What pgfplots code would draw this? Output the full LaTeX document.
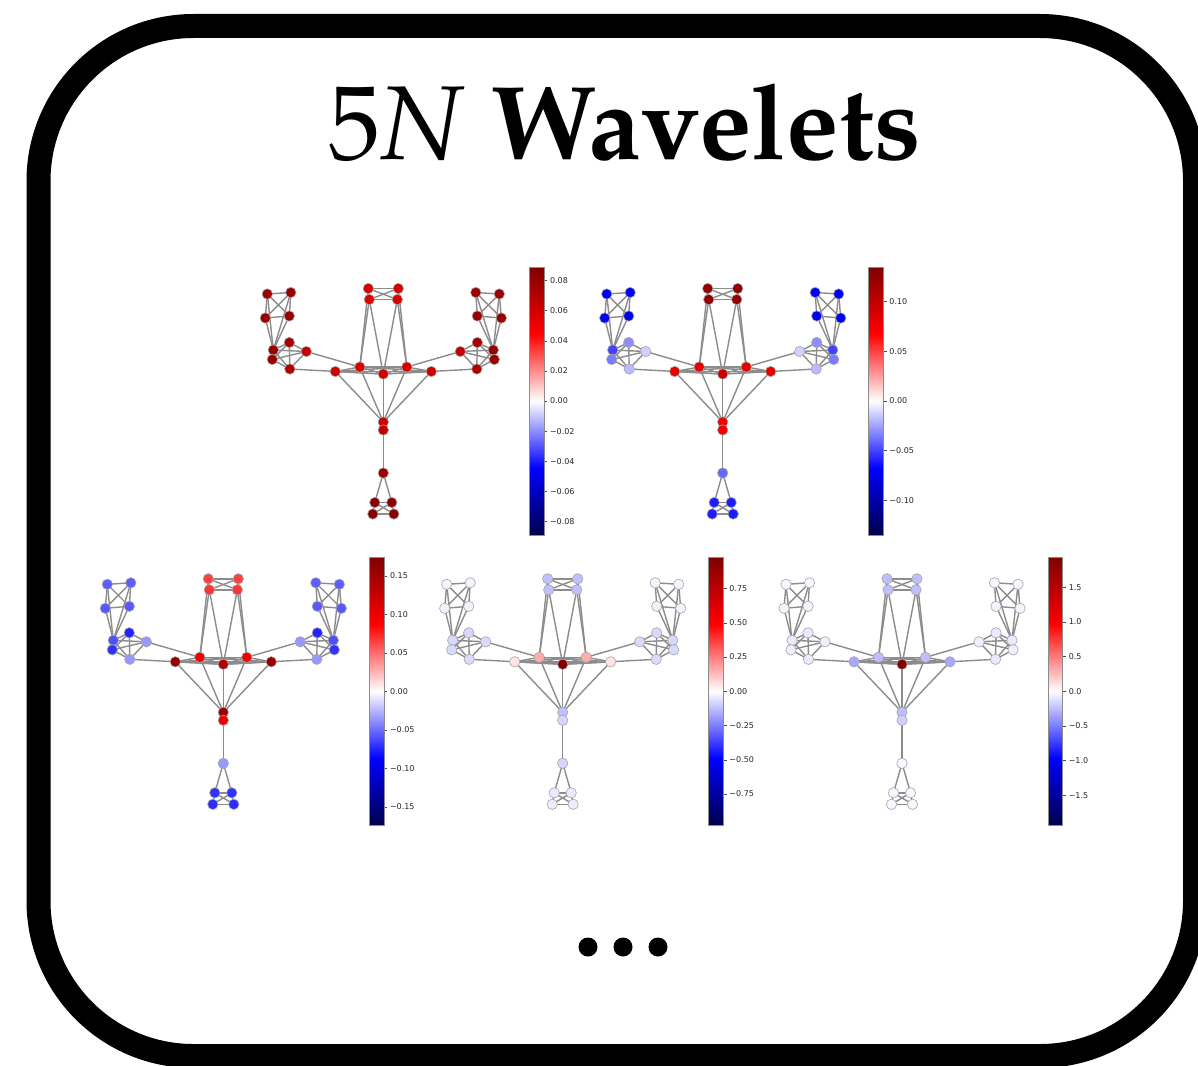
\documentclass[border=0pt]{standalone}
\usepackage{fontspec}
\newfontfamily\dejavu{DejaVu Sans}
\usepackage[T1,TU]{fontenc}
\usepackage{pgfplots}
\usepackage{pgfplotstable}
\pgfplotsset{compat=1.18}
\pgfplotsset{colormap={seismic}{rgb=(0,0,0.3) rgb=(0,0,1) rgb=(1,1,1) rgb=(1,0,0) rgb=(0.5,0,0)}}

\pgfplotstableread{
x y w1 w2 w3 w4 w5
-116 80 0.080 -0.070 -0.055 -0.020 -0.03
-92.5 81.5 0.080 -0.070 -0.055 -0.020 -0.03
-118 56 0.080 -0.072 -0.057 -0.025 -0.04
-94 58 0.080 -0.072 -0.057 -0.025 -0.04
-110 24 0.080 -0.050 -0.060 -0.075 -0.08
-94 31.5 0.075 -0.030 -0.075 -0.075 -0.08
-77 22.5 0.065 -0.012 -0.035 -0.070 -0.06
-111 14.5 0.080 -0.035 -0.070 -0.070 -0.06
-93.5 5 0.072 -0.018 -0.035 -0.070 -0.08
-15 85.5 0.058 0.125 0.065 -0.120 -0.24
15 85.5 0.058 0.125 0.065 -0.120 -0.24
-14 74.5 0.058 0.125 0.070 -0.120 -0.24
14 74.5 0.058 0.125 0.070 -0.120 -0.24
92.5 81.5 0.080 -0.070 -0.055 -0.020 -0.03
116 80 0.080 -0.070 -0.055 -0.020 -0.03
94 58 0.080 -0.072 -0.057 -0.025 -0.04
118 56 0.080 -0.072 -0.057 -0.025 -0.04
94 31.5 0.075 -0.030 -0.075 -0.075 -0.08
77 22.5 0.065 -0.012 -0.035 -0.070 -0.06
110 24 0.080 -0.050 -0.060 -0.075 -0.08
111 14.5 0.080 -0.035 -0.070 -0.070 -0.06
93.5 5 0.072 -0.018 -0.035 -0.070 -0.08
-48 2.5 0.062 0.080 0.160 0.050 -0.33
-23.5 7 0.058 0.080 0.100 0.160 -0.25
0 0 0.060 0.095 0.140 0.960 1.90
23.5 7 0.058 0.080 0.100 0.160 -0.25
48 2.5 0.062 0.080 0.160 0.050 -0.33
0 -48 0.064 0.075 0.155 -0.120 -0.25
0 -56 0.066 0.075 0.100 -0.080 -0.18
0 -99 0.080 -0.040 -0.035 -0.080 -0.03
-8.5 -128.5 0.085 -0.060 -0.070 -0.040 -0.03
8.5 -128.5 0.085 -0.060 -0.070 -0.040 -0.03
-10.5 -140 0.085 -0.060 -0.072 -0.035 -0.03
10.5 -140 0.085 -0.060 -0.072 -0.035 -0.03
}\nodes

\pgfplotstableread{
x1 y1 x2 y2
-116 80 -92.5 81.5
-116 80 -118 56
-116 80 -94 58
-92.5 81.5 -118 56
-92.5 81.5 -94 58
-118 56 -94 58
-116 80 -110 24
-92.5 81.5 -110 24
-118 56 -110 24
-94 58 -110 24
-110 24 -94 31.5
-110 24 -77 22.5
-110 24 -111 14.5
-110 24 -93.5 5
-94 31.5 -77 22.5
-94 31.5 -111 14.5
-94 31.5 -93.5 5
-77 22.5 -111 14.5
-77 22.5 -93.5 5
-111 14.5 -93.5 5
-77 22.5 -23.5 7
-93.5 5 0 0
-15 85.5 15 85.5
-14 74.5 14 74.5
-15 85.5 -14 74.5
15 85.5 14 74.5
-15 85.5 14 74.5
15 85.5 -14 74.5
-14 74.5 -23.5 7
-14 74.5 0 0
14 74.5 0 0
14 74.5 23.5 7
-15 85.5 -23.5 7
15 85.5 23.5 7
116 80 92.5 81.5
116 80 118 56
116 80 94 58
92.5 81.5 118 56
92.5 81.5 94 58
118 56 94 58
116 80 110 24
92.5 81.5 110 24
118 56 110 24
94 58 110 24
110 24 94 31.5
110 24 77 22.5
110 24 111 14.5
110 24 93.5 5
94 31.5 77 22.5
94 31.5 111 14.5
94 31.5 93.5 5
77 22.5 111 14.5
77 22.5 93.5 5
111 14.5 93.5 5
77 22.5 23.5 7
93.5 5 0 0
-48 2.5 -23.5 7
-48 2.5 0 0
-48 2.5 23.5 7
-48 2.5 48 2.5
-23.5 7 0 0
-23.5 7 23.5 7
-23.5 7 48 2.5
0 0 23.5 7
0 0 48 2.5
23.5 7 48 2.5
-48 2.5 0 -48
-23.5 7 0 -48
0 0 0 -48
23.5 7 0 -48
48 2.5 0 -48
0 -48 0 -56
0 -56 0 -99
0 -99 -8.5 -128.5
0 -99 8.5 -128.5
-8.5 -128.5 8.5 -128.5
-10.5 -140 10.5 -140
-8.5 -128.5 -10.5 -140
8.5 -128.5 10.5 -140
-8.5 -128.5 10.5 -140
8.5 -128.5 -10.5 -140
}\edges

\pgfplotsset{
  gstyle/.style={
    x=1pt, y=1pt, xmin=-130, xmax=130, ymin=-161, ymax=107,
    hide axis, clip=false, anchor=south west,
    colormap name=seismic, colorbar,
    colorbar style={
      width=14.5pt, height=268pt,
      at={(parent axis.north east)}, anchor=north west, xshift=7.5pt,
      scaled y ticks=false,
      ytick pos=right, tick align=outside, major tick length=3.5pt,
      every tick/.style={black!70, line width=0.5pt},
      axis line style={black!45, line width=0.6pt},
      yticklabel style={font=\dejavu\fontsize{8}{9}\selectfont, text=black!85, inner sep=2.5pt},
    },
  },
  edgestyle/.style={color=black!45, line width=1.4pt, no markers,
    quiver={u=\thisrow{x2}-\thisrow{x1}, v=\thisrow{y2}-\thisrow{y1}}},
  nodestyle/.style={scatter, only marks, mark=*, mark size=5.2pt,
    scatter src=explicit,
    scatter/use mapped color={draw=black!35, fill=mapped color},
    mark options={line width=0.6pt}},
}

\begin{document}
\begin{tikzpicture}
\path[use as bounding box] (0pt,0pt) rectangle (1198pt,-1065pt);
\fill[white] (0pt,0pt) rectangle (1198pt,-1065pt);
\draw[line width=24pt, rounded corners=155pt] (38.5pt,-26pt) rectangle (1195pt,-1056pt);

\node[anchor=base] at (624.5pt,-159pt)
  {\fontencoding{T1}\fontfamily{ppl}\fontsize{105}{115}\selectfont 5\textit{N} \textbf{Wavelets}};

% graph 1
\begin{axis}[gstyle, at={(253.3pt,-535pt)},
  point meta min=-0.089, point meta max=0.089,
  colorbar style={ytick={-0.08,-0.06,-0.04,-0.02,0,0.02,0.04,0.06,0.08},
    yticklabels={−0.08,−0.06,−0.04,−0.02,0.00,0.02,0.04,0.06,0.08}}]
\addplot[edgestyle] table[x=x1,y=y1] {\edges};
\addplot[nodestyle] table[x=x,y=y,meta=w1] {\nodes};
\end{axis}

% graph 2
\begin{axis}[gstyle, at={(592.7pt,-535pt)},
  point meta min=-0.135, point meta max=0.135,
  colorbar style={ytick={-0.10,-0.05,0,0.05,0.10},
    yticklabels={−0.10,−0.05,0.00,0.05,0.10}}]
\addplot[edgestyle] table[x=x1,y=y1] {\edges};
\addplot[nodestyle] table[x=x,y=y,meta=w2] {\nodes};
\end{axis}

% graph 3
\begin{axis}[gstyle, at={(93.3pt,-825.3pt)},
  point meta min=-0.174, point meta max=0.174,
  colorbar style={ytick={-0.15,-0.10,-0.05,0,0.05,0.10,0.15},
    yticklabels={−0.15,−0.10,−0.05,0.00,0.05,0.10,0.15}}]
\addplot[edgestyle] table[x=x1,y=y1] {\edges};
\addplot[nodestyle] table[x=x,y=y,meta=w3] {\nodes};
\end{axis}

% graph 4
\begin{axis}[gstyle, at={(432.7pt,-825.3pt)},
  point meta min=-0.978, point meta max=0.978,
  colorbar style={ytick={-0.75,-0.5,-0.25,0,0.25,0.5,0.75},
    yticklabels={−0.75,−0.50,−0.25,0.00,0.25,0.50,0.75}}]
\addplot[edgestyle] table[x=x1,y=y1] {\edges};
\addplot[nodestyle] table[x=x,y=y,meta=w4] {\nodes};
\end{axis}

% graph 5
\begin{axis}[gstyle, at={(772pt,-825.3pt)},
  point meta min=-1.93, point meta max=1.93,
  colorbar style={ytick={-1.5,-1,-0.5,0,0.5,1,1.5},
    yticklabels={−1.5,−1.0,−0.5,0.0,0.5,1.0,1.5}}]
\addplot[edgestyle] table[x=x1,y=y1] {\edges};
\addplot[nodestyle] table[x=x,y=y,meta=w5] {\nodes};
\end{axis}

\fill (588pt,-947pt) circle (9.5pt);
\fill (623pt,-947pt) circle (9.5pt);
\fill (658pt,-947pt) circle (9.5pt);
\end{tikzpicture}
\end{document}
